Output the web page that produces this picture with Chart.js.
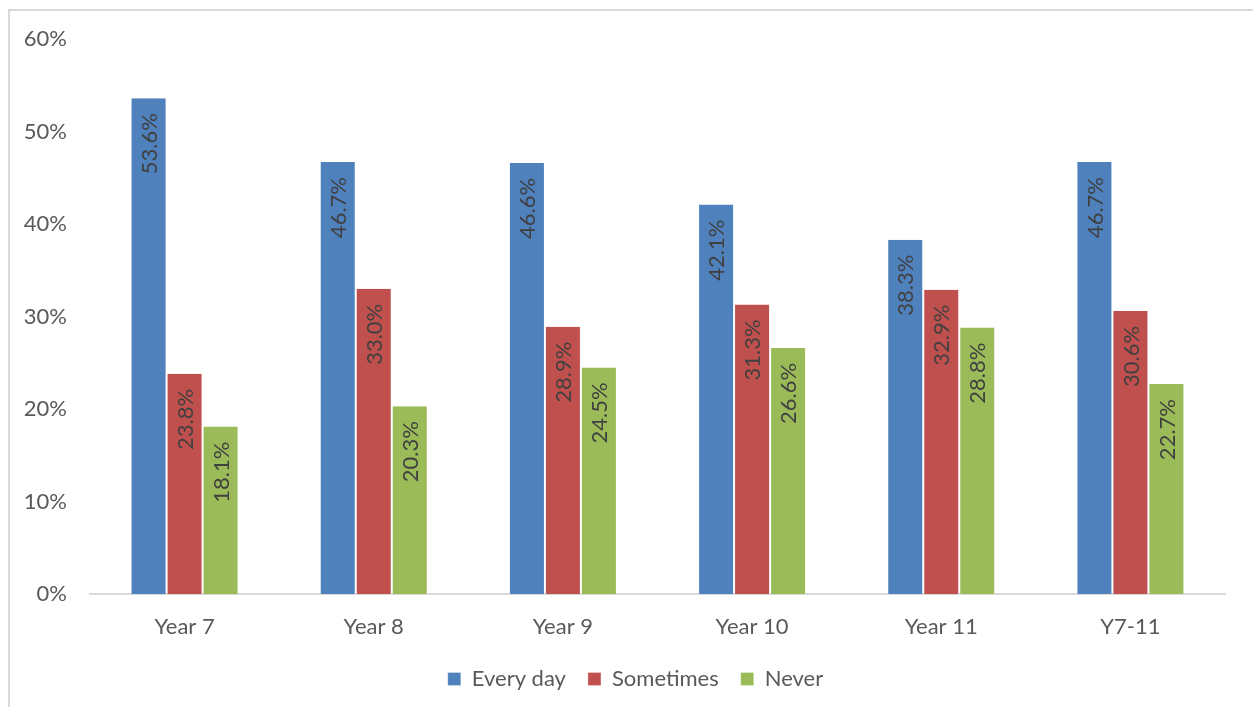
<!DOCTYPE html>
<html>
<head>
<meta charset="utf-8">
<script src="https://cdn.jsdelivr.net/npm/chart.js@4/dist/chart.umd.min.js"></script>
<style>
  html, body { margin: 0; padding: 0; background: #fff; }
  body { width: 1253px; height: 707px; position: relative; overflow: hidden; }
  #frame { position: absolute; left: 8px; top: 9px; width: 1300px; height: 800px;
           border-left: 2px solid #d9d9d9; border-top: 2px solid #d9d9d9; }
  #wrap { position: absolute; left: 0; top: 0; width: 1253px; height: 720px; }
</style>
</head>
<body>
<div id="frame"></div>
<div id="wrap"><canvas id="c" width="1253" height="720"></canvas></div>
<script>
const categories = ['Year 7', 'Year 8', 'Year 9', 'Year 10', 'Year 11', 'Y7-11'];
const everyDay  = [53.6, 46.7, 46.6, 42.1, 38.3, 46.7];
const sometimes = [23.8, 33.0, 28.9, 31.3, 32.9, 30.6];
const never     = [18.1, 20.3, 24.5, 26.6, 28.8, 22.7];
const yTicks    = [0, 10, 20, 30, 40, 50, 60];

const FONT = 'Lato, "Open Sans", sans-serif';
const SIZE = 22;

// Value labels written vertically inside the top of each bar
const barLabels = {
  id: 'barLabels',
  afterDatasetsDraw(chart) {
    const ctx = chart.ctx;
    ctx.save();
    ctx.font = SIZE + 'px ' + FONT;
    ctx.fillStyle = '#404040';
    chart.data.datasets.forEach((ds, di) => {
      const meta = chart.getDatasetMeta(di);
      meta.data.forEach((bar, i) => {
        ctx.save();
        ctx.translate(bar.x, bar.y + 15);
        ctx.rotate(-Math.PI / 2);
        ctx.textAlign = 'right';
        ctx.textBaseline = 'middle';
        ctx.fillText(ds.data[i].toFixed(1) + '%', 0, 1);
        ctx.restore();
      });
    });
    ctx.restore();
  }
};

// Centre the legend under the plot area rather than the whole canvas
const legendShift = {
  id: 'legendShift',
  afterLayout(chart) {
    const lg = chart.legend;
    if (!lg) return;
    const dx = 23;
    lg.left += dx;
    lg.right += dx;
  }
};

new Chart(document.getElementById('c'), {
  type: 'bar',
  data: {
    labels: categories,
    datasets: [
      { label: 'Every day', data: everyDay,  backgroundColor: '#4F81BD' },
      { label: 'Sometimes', data: sometimes, backgroundColor: '#C0504D' },
      { label: 'Never',     data: never,     backgroundColor: '#9BBB59' }
    ]
  },
  options: {
    responsive: false,
    animation: false,
    devicePixelRatio: 1,
    layout: { padding: { top: 39, right: 28, bottom: 20, left: 0 } },
    datasets: {
      bar: {
        categoryPercentage: 0.571,
        barPercentage: 1,
        borderWidth: { left: 1, right: 1, top: 0, bottom: 0 },
        borderColor: 'rgba(255,255,255,0.55)'
      }
    },
    scales: {
      x: {
        afterFit(scale) { scale.height = 52; },
        grid: { display: false, drawTicks: false },
        border: { display: true, color: '#d9d9d9', width: 2 },
        ticks: { color: '#595959', font: { family: FONT, size: SIZE }, padding: 20 }
      },
      y: {
        min: 0, max: 60,
        afterBuildTicks(scale) { scale.ticks = yTicks.map(v => ({ value: v })); },
        afterFit(scale) { scale.width = 90; },
        grid: { display: false, drawTicks: false },
        border: { display: false },
        ticks: {
          color: '#595959', font: { family: FONT, size: SIZE }, padding: 23,
          callback: v => v + '%'
        }
      }
    },
    plugins: {
      legend: {
        position: 'bottom',
        labels: {
          color: '#595959', font: { family: FONT, size: SIZE },
          boxWidth: 13, boxHeight: 13, padding: 22
        }
      },
      tooltip: { enabled: false }
    }
  },
  plugins: [barLabels, legendShift]
});
</script>
</body>
</html>
